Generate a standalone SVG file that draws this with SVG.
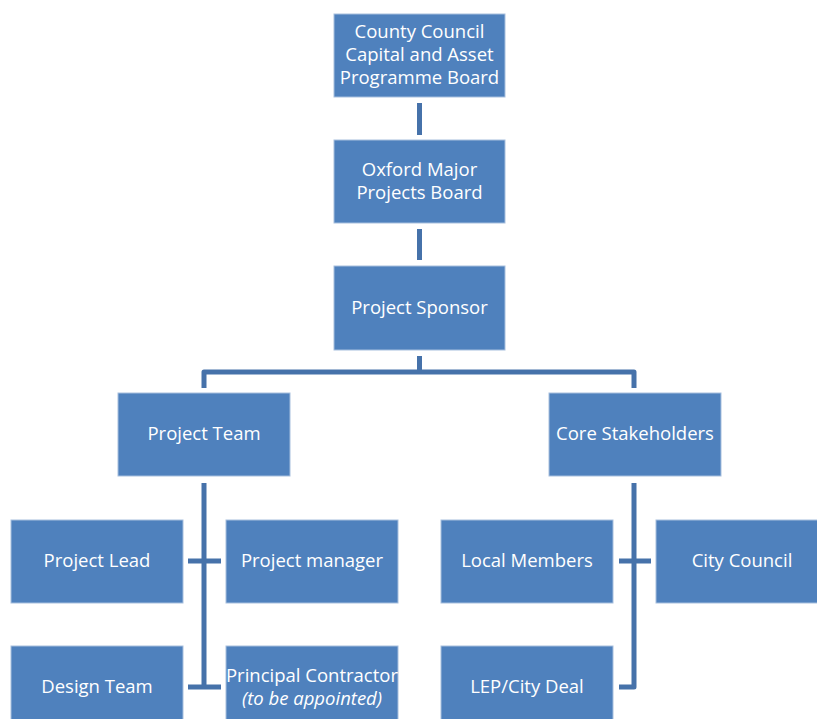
<svg xmlns="http://www.w3.org/2000/svg" width="817" height="719" viewBox="0 0 817 719">
<style>
.box{fill:#4F81BD;stroke:#A7BFDE;stroke-width:1}
.t{font-family:"Open Sans","Liberation Sans",sans-serif;font-size:18.5px;fill:#FFFFFF;text-anchor:middle}
.i{font-style:italic}
.c{fill:none;stroke:#4672AA;stroke-width:5;stroke-linejoin:round}
</style>
<rect width="817" height="719" fill="#FFFFFF"/>
<g id="connectors">
<path class="c" d="M419.5,103 V135"/>
<path class="c" d="M419.5,229 V260"/>
<path class="c" d="M419.5,356 V372 M204,388 V372 H634 V388"/>
<path class="c" d="M204,483 V687 M188,561 H221 M188,687 H221"/>
<path class="c" d="M634,483 V687 H619 M619,561 H651"/>
</g>
<g id="n1"><rect class="box" x="334" y="14" width="171" height="83"/><text class="t" x="419.5" y="38">County Council</text><text class="t" x="419.5" y="61">Capital and Asset</text><text class="t" x="419.5" y="84">Programme Board</text></g>
<g id="n2"><rect class="box" x="334" y="140" width="171" height="83"/><text class="t" x="419.5" y="176">Oxford Major</text><text class="t" x="419.5" y="199">Projects Board</text></g>
<g id="n3"><rect class="box" x="334" y="266" width="171" height="84"/><text class="t" x="419.5" y="314">Project Sponsor</text></g>
<g id="n4"><rect class="box" x="118" y="393" width="172" height="83"/><text class="t" x="204" y="440">Project Team</text></g>
<g id="n5"><rect class="box" x="549" y="393" width="172" height="83"/><text class="t" x="635" y="440">Core Stakeholders</text></g>
<g id="n6"><rect class="box" x="11" y="520" width="172" height="83"/><text class="t" x="97" y="567">Project Lead</text></g>
<g id="n7"><rect class="box" x="226" y="520" width="172" height="83"/><text class="t" x="312" y="567">Project manager</text></g>
<g id="n8"><rect class="box" x="441" y="520" width="172" height="83"/><text class="t" x="527" y="567">Local Members</text></g>
<g id="n9"><rect class="box" x="656" y="520" width="172" height="83"/><text class="t" x="742" y="567">City Council</text></g>
<g id="n10"><rect class="box" x="11" y="646" width="172" height="83"/><text class="t" x="97" y="693">Design Team</text></g>
<g id="n11"><rect class="box" x="226" y="646" width="172" height="83"/><text class="t" x="312" y="682">Principal Contractor</text><text class="t i" x="312" y="705">(to be appointed)</text></g>
<g id="n12"><rect class="box" x="441" y="646" width="172" height="83"/><text class="t" x="527" y="693">LEP/City Deal</text></g>
</svg>
